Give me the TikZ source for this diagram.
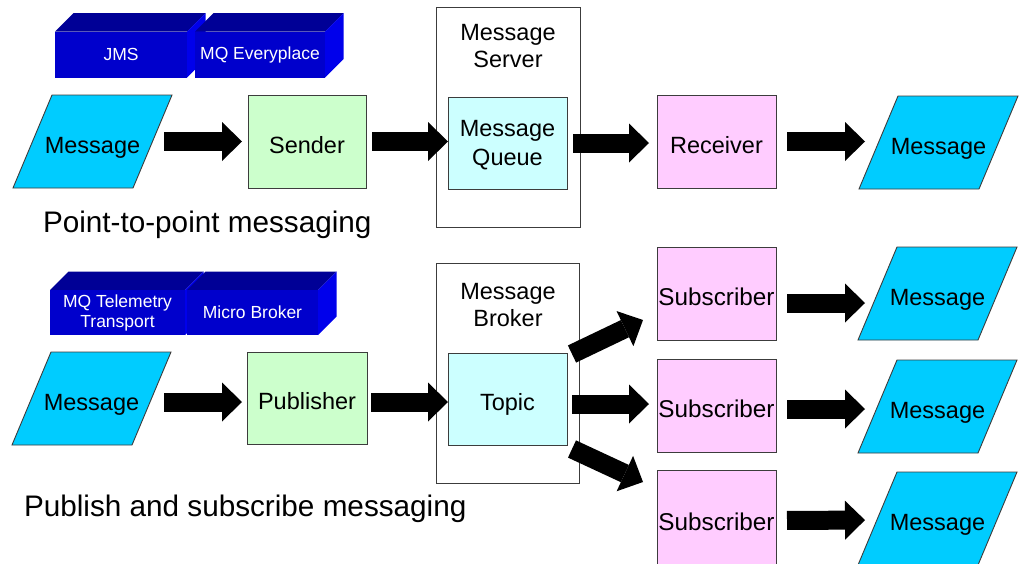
\documentclass[tikz,border=0pt]{standalone}
\usepackage{fontspec}
\setmainfont{Liberation Sans}
\usetikzlibrary{arrows.meta}
\definecolor{msgcyan}{RGB}{0,204,255}
\definecolor{sendgreen}{RGB}{204,255,204}
\definecolor{queuecyan}{RGB}{204,255,255}
\definecolor{recvpink}{RGB}{255,204,255}
\definecolor{frontblue}{RGB}{0,0,204}
\definecolor{topblue}{RGB}{0,0,150}
\definecolor{sideblue}{RGB}{0,0,235}
\definecolor{edgegray}{RGB}{60,60,60}
\pgfdeclarelayer{bg}
\pgfsetlayers{bg,main}
\newcommand\mqpara[1]{%
  \begin{pgfonlayer}{bg}
  \draw[paraline] ([xshift=-19.5pt]#1.south west) -- ([xshift=-19.5pt]#1.south east)
     -- ([xshift=19.5pt]#1.north east) -- ([xshift=19.5pt]#1.north west) -- cycle;
  \end{pgfonlayer}}
\newcommand\mqcube[1]{%
  \begin{pgfonlayer}{bg}
  \fill[topblue] (#1.north west) -- (#1.north east) -- ([shift={(18.5,-18.5)}]#1.north east)
     -- ([shift={(18.5,-18.5)}]#1.north west) -- cycle;
  \fill[sideblue] (#1.north east) -- ([shift={(18.5,-18.5)}]#1.north east)
     -- ([shift={(18.5,-18.5)}]#1.south east) -- (#1.south east) -- cycle;
  \end{pgfonlayer}}
\begin{document}
\begin{tikzpicture}[x=1pt,y=-1pt,
  every node/.style={inner sep=0pt, outer sep=0pt},
  boxtxt/.style={font=\fontsize{23.5}{27}\selectfont, align=center},
  onetxt/.style={boxtxt, text height=23pt, text depth=0pt},
  plainbox/.style={draw=edgegray, line width=0.9pt},
  greenbox/.style={onetxt, plainbox, fill=sendgreen},
  pinkbox/.style={onetxt, plainbox, fill=recvpink, minimum width=119pt, minimum height=93pt},
  subbox/.style={pinkbox, font=\fontsize{24.3}{27}\selectfont},
  cyanbox/.style={plainbox, fill=queuecyan, minimum width=119pt, minimum height=92pt},
  container/.style={plainbox, fill=white},
  msgnode/.style={onetxt, minimum width=120pt, minimum height=93pt},
  paraline/.style={draw=edgegray, line width=0.9pt, fill=msgcyan},
  cubefront/.style={fill=frontblue, text=white, font=\fontsize{17.5}{20}\selectfont, align=center},
  captxt/.style={font=\fontsize{29.7}{34}\selectfont},
  blk/.style={draw=black, line width=19pt, -{Triangle[length=20pt,width=39pt,line width=0pt]}}
]
\begin{pgfonlayer}{bg}
\fill[white] (0,0) rectangle (1034,563);
\end{pgfonlayer}
\useasboundingbox (0,0) rectangle (1034,563);

% ---------- point-to-point ----------
\node[cubefront, minimum width=132pt, minimum height=46pt] (jms) at (121,54.5) {JMS}; \mqcube{jms}
\node[cubefront, minimum width=130pt, minimum height=46pt] (mqe) at (260,54.5) {MQ Everyplace}; \mqcube{mqe}

\node[container, minimum width=144pt, minimum height=220pt] (server) at (508,117) {};
\node[boxtxt] (servertitle) at (508,46) {Message\\Server};
\node[cyanbox] (queue) at (507.5,143) {};
\node[boxtxt, font=\fontsize{23.5}{29}\selectfont] (queuetxt) at (queue.center) [yshift=-2pt] {Message\\Queue};

\node[msgnode] (m1) at (92.5,141.5) {Message}; \mqpara{m1}
\node[greenbox, minimum width=118pt, minimum height=93pt] (sender) at (307,141.5) {Sender};
\node[pinkbox] (receiver) at (716.5,141.5) {Receiver};
\node[msgnode] (m2) at (938.5,142.5) {Message}; \mqpara{m2}

\draw[blk, shorten <=11.5pt, shorten >=6pt] (m1.east) -- (m1.east -| sender.west);
\draw[blk, shorten <=6pt] (sender.east) -- (sender.east -| queue.west);
\draw[blk, shorten <=6pt, shorten >=8pt] (queue.east) -- (queue.east -| receiver.west);
\draw[blk, shorten <=11pt, shorten >=13.5pt] (receiver.east) -- (receiver.east -| m2.west);

\node[captxt, anchor=base west] (cap1) at (43,232) {Point-to-point messaging};

% ---------- publish / subscribe ----------
\node[cubefront, minimum width=135pt, minimum height=45pt] (mqtt) at (117.5,312.5) {MQ Telemetry\\Transport}; \mqcube{mqtt}
\node[cubefront, minimum width=131pt, minimum height=45pt] (micro) at (252.5,312.5) {Micro Broker}; \mqcube{micro}

\node[container, minimum width=143pt, minimum height=220pt] (broker) at (507.5,373) {};
\node[boxtxt] (brokertitle) at (508,305) {Message\\Broker};
\node[cyanbox, onetxt] (topic) at (507.5,399) {Topic};

\node[msgnode] (m3) at (91.5,398.5) {Message}; \mqpara{m3}
\node[greenbox, minimum width=120pt, minimum height=92pt] (publisher) at (307,398) {Publisher};

\node[subbox] (sub1) at (716.5,293.5) {Subscriber};
\node[subbox] (sub2) at (716.5,405.5) {Subscriber};
\node[subbox, minimum height=97pt] (sub3) at (716.5,518.5) {Subscriber};

\node[msgnode] (m4) at (937.5,293.5) {Message}; \mqpara{m4}
\node[msgnode] (m5) at (937.5,406.5) {Message}; \mqpara{m5}
\node[msgnode] (m6) at (937.5,518.5) {Message}; \mqpara{m6}

\draw[blk, shorten <=12.5pt, shorten >=5pt] ([yshift=-3.5pt]m3.east) -- ([yshift=-4pt]publisher.west);
\draw[blk, shorten <=4pt] ([yshift=-4pt]publisher.east) -- ([yshift=-3pt]topic.west);
\draw[blk, shorten <=5pt, shorten >=8pt] ([yshift=-5pt]topic.east) -- ([yshift=1.5pt]sub2.west);
\draw[blk] ([shift={(5,1)}]topic.north east) -- ([shift={(-14,-20)}]sub1.south west);
\draw[blk] ([shift={(5,4)}]topic.south east) -- ([shift={(-14,12)}]sub3.north west);

\draw[blk, shorten <=11pt, shorten >=12.5pt] ([yshift=-9.5pt]sub1.east) -- ([yshift=-9.5pt]m4.west);
\draw[blk, shorten <=11pt, shorten >=12.5pt] ([yshift=-3.5pt]sub2.east) -- ([yshift=-2.5pt]m5.west);
\draw[blk, shorten <=11pt, shorten >=12.5pt] ([yshift=-2pt]sub3.east) -- ([yshift=-1.5pt]m6.west);

\node[captxt, anchor=base west] (cap2) at (24,516) {Publish and subscribe messaging};
\end{tikzpicture}
\end{document}
